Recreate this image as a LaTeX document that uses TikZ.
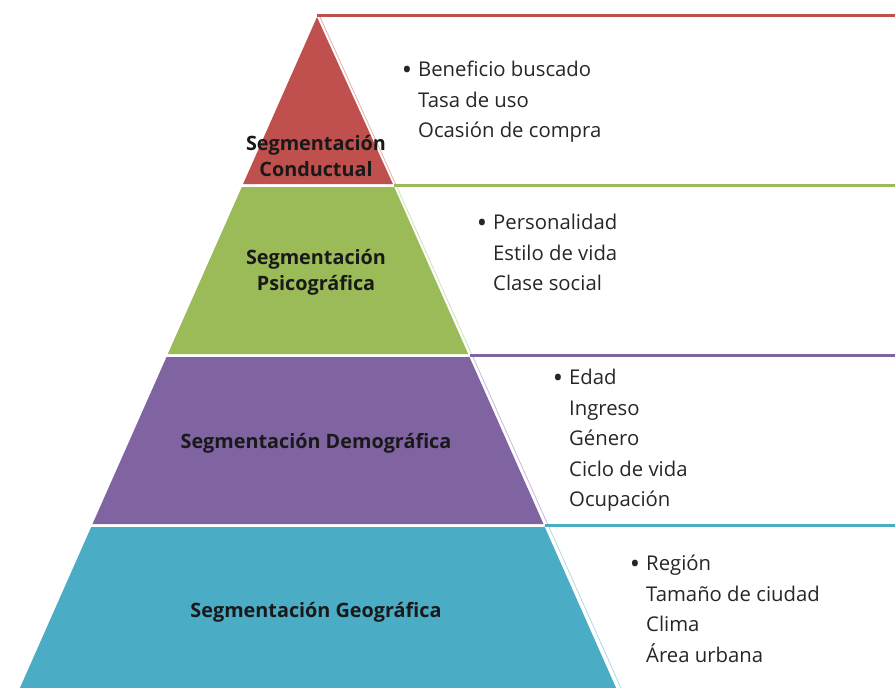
\documentclass[tikz,border=0pt]{standalone}
\usepackage{fontspec}
\setmainfont{Open Sans}
\usepackage{tikz}
\usetikzlibrary{positioning}
\definecolor{rojo}{HTML}{C0504D}
\definecolor{verde}{HTML}{9BBB59}
\definecolor{morado}{HTML}{8064A2}
\definecolor{azul}{HTML}{4BACC6}
\definecolor{texto}{HTML}{262626}
\tikzstyle{titulo} = [font=\fontsize{19.8}{26}\selectfont\bfseries, text=black!90, align=center, inner sep=0pt]
\tikzstyle{lista}  = [font=\fontsize{20.3}{30.5}\selectfont, text=texto, align=left, anchor=north west, inner sep=0pt]
\tikzstyle{borde}  = [line width=0.8pt]
\tikzstyle{tope}   = [line width=3pt]
\newcommand{\punto}{\llap{\raisebox{-0.13em}{\scalebox{1.35}{\textbullet}}\hspace{6pt}}}

\begin{document}
\begin{tikzpicture}[x=1pt, y=-1pt]
    \useasboundingbox (0,0) rectangle (895,688);
    % pyramid layers
    \fill[rojo]   (317,17) -- (392.9,184) -- (243.1,184) -- cycle;
    \fill[verde]  (241.8,187) -- (394.2,187) -- (468.2,354) -- (167.8,354) -- cycle;
    \fill[morado] (166.5,357) -- (469.5,357) -- (543.5,524) -- (92.5,524) -- cycle;
    \fill[azul]   (91.2,527) -- (544.8,527) -- (616.1,688) -- (19.9,688) -- cycle;

    % side panels
    \draw[borde, rojo!45]   (320,17) -- (396,185);
    \draw[borde, verde!45]  (397,187) -- (472,355);
    \draw[borde, morado!45] (473,357) -- (548,525);
    \draw[borde, azul!45]   (549,527) -- (621,688);
    \draw[tope, rojo]   (317,15.5) -- (895,15.5);
    \draw[tope, verde]  (394,185.5) -- (895,185.5);
    \draw[tope, morado] (470,355.5) -- (895,355.5);
    \draw[tope, azul]   (545,525.5) -- (895,525.5);

    % layer titles
    \node (cond) [titulo] at (316,156) {Segmentación\\Conductual};
    \node (psic) [titulo] at (316,272) {Segmentación\\Psicográfica};
    \node (demo) [titulo] at (316,443) {Segmentación Demográfica};
    \node (geog) [titulo] at (316,612) {Segmentación Geográfica};

    % item lists
    \node (lcond) [lista] at (418,61) {\punto Beneficio buscado\\Tasa de uso\\Ocasión de compra};
    \node (lpsic) [lista] at (493,214) {\punto Personalidad\\Estilo de vida\\Clase social};
    \node (ldemo) [lista] at (569,369) {\punto Edad\\Ingreso\\Género\\Ciclo de vida\\Ocupación};
    \node (lgeog) [lista] at (646,555) {\punto Región\\Tamaño de ciudad\\Clima\\Área urbana};
\end{tikzpicture}
\end{document}
